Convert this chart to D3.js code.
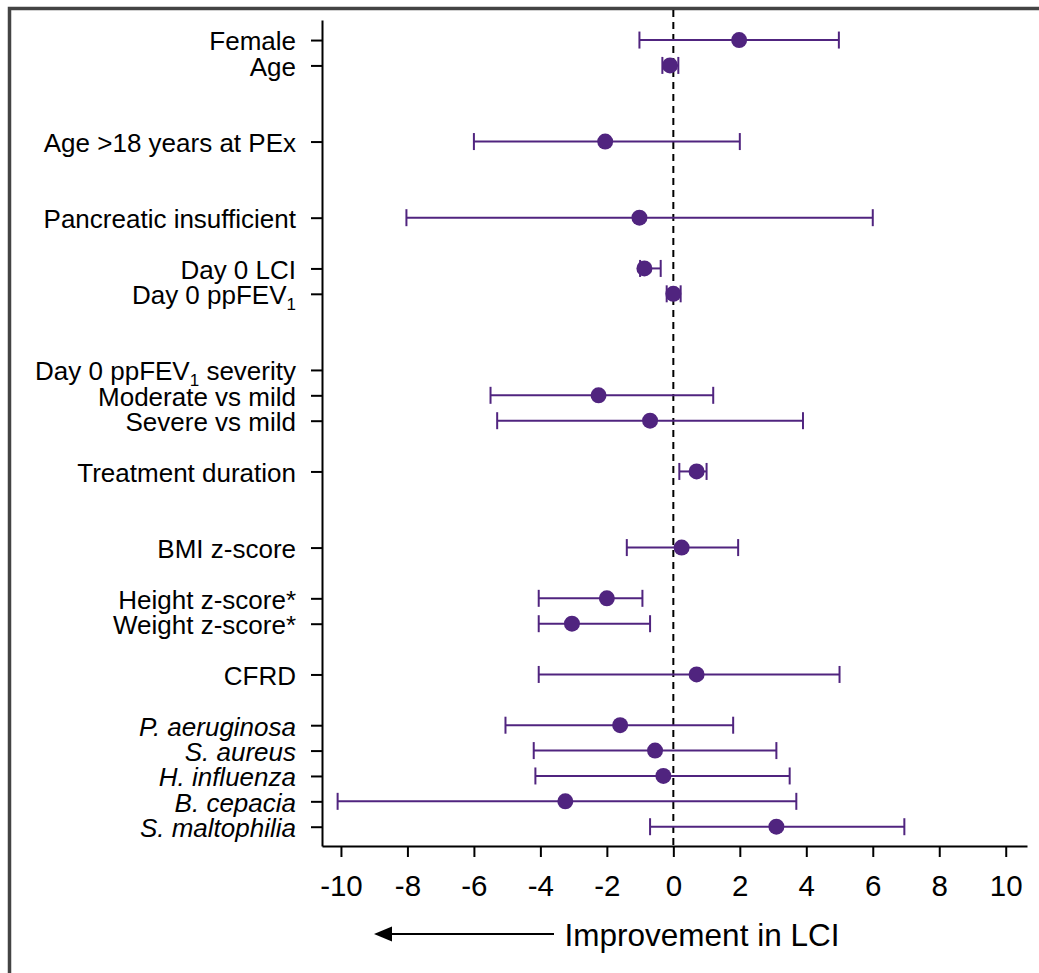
<!DOCTYPE html>
<html>
<head>
<meta charset="utf-8">
<script src="https://cdn.jsdelivr.net/npm/d3@7"></script>
<style>
  html, body { margin: 0; padding: 0; background: #fff; }
  svg { display: block; font-family: "Liberation Sans", Arial, Helvetica, sans-serif; }
</style>
</head>
<body>
<div id="chart"></div>
<script>
// forest plot : change in LCI per predictor, point estimate + 95% CI
// "_" marks the subscript character in a label (ppFEV_1)
var labels = ["Female", "Age", "Age >18 years at PEx", "Pancreatic insufficient",
  "Day 0 LCI", "Day 0 ppFEV_1", "Day 0 ppFEV_1 severity", "Moderate vs mild", "Severe vs mild",
  "Treatment duration", "BMI z-score", "Height z-score*", "Weight z-score*", "CFRD",
  "P. aeruginosa", "S. aureus", "H. influenza", "B. cepacia", "S. maltophilia"];

// row slot on the y axis (gaps separate the groups)
var rowSlot = [0, 1, 4, 7, 9, 10, 13.0, 14, 15, 17, 20, 22, 23, 25, 27, 28, 29, 30, 31];

var estimate = [1.98, -0.1, -2.05, -1.02, -0.87, 0.0, null, -2.25, -0.7, 0.7, 0.25, -2.0, -3.05, 0.7, -1.6, -0.55, -0.3, -3.25, 3.1];
var lower    = [-1.02, -0.33, -6.0, -8.03, -1.0, -0.2, null, -5.5, -5.3, 0.18, -1.4, -4.05, -4.05, -4.05, -5.05, -4.2, -4.15, -10.1, -0.7];
var upper    = [4.98, 0.15, 2.0, 6.0, -0.38, 0.22, null, 1.2, 3.9, 1.0, 1.95, -0.93, -0.7, 5.0, 1.8, 3.1, 3.5, 3.7, 6.95];

// organisms are written in italics
var italicRows = ["P. aeruginosa", "S. aureus", "H. influenza", "B. cepacia", "S. maltophilia"];

var xTicks = [-10, -8, -6, -4, -2, 0, 2, 4, 6, 8, 10];
var xTitle = "Improvement in LCI";

var W = 1039, H = 973;
var purple = "#50247f";

var svg = d3.select("#chart").append("svg")
    .attr("width", W)
    .attr("height", H);

// grey frame round the figure
svg.append("rect")
    .attr("x", 9.5).attr("y", 8.5)
    .attr("width", W + 50).attr("height", H + 50)
    .attr("fill", "none")
    .attr("stroke", "#444")
    .attr("stroke-width", 3.5);

var x = d3.scaleLinear().domain([-10.57, 10.64]).range([322, 1027]);
var y = d3.scaleLinear().domain([-0.79, 31.76]).range([20, 846]);

var rows = labels.map(function(l, i) {
    return { label: l, slot: rowSlot[i], est: estimate[i], lo: lower[i], hi: upper[i] };
});

// axes
var yAxis = svg.append("g")
    .attr("transform", "translate(" + x.range()[0] + ",0)")
    .call(d3.axisLeft(y).tickValues(rowSlot).tickSize(11).tickSizeOuter(0).tickFormat(""));

var xAxis = svg.append("g")
    .attr("transform", "translate(0," + y.range()[1] + ")")
    .call(d3.axisBottom(x).tickValues(xTicks).tickSize(11).tickSizeOuter(0).tickPadding(18)
        .tickFormat(d3.format("d")));

[yAxis, xAxis].forEach(function(a) {
    a.select(".domain").attr("stroke", "#000").attr("stroke-width", 2);
    a.selectAll(".tick line").attr("stroke", "#000").attr("stroke-width", 2);
});
xAxis.selectAll(".tick text")
    .attr("font-size", 29.5)
    .attr("font-family", "Liberation Sans, Arial, sans-serif")
    .attr("fill", "#000")
    .text(function(d) { return d < 0 ? "-" + Math.abs(d) : d; });

// row labels, with subscript and italics
var lab = svg.append("g").selectAll("text")
    .data(rows).enter().append("text")
    .attr("x", 296)
    .attr("y", function(d) { return y(d.slot); })
    .attr("dy", "0.4em")
    .attr("text-anchor", "end")
    .attr("font-size", 26)
    .attr("font-style", function(d) { return italicRows.indexOf(d.label) >= 0 ? "italic" : "normal"; })
    .attr("fill", "#000");

lab.each(function(d) {
    var t = d3.select(this);
    var parts = d.label.split("_");
    t.append("tspan").text(parts[0]);
    if (parts.length > 1) {
        t.append("tspan").attr("font-size", 17).attr("dy", 6).text(parts[1].charAt(0));
        t.append("tspan").attr("dy", -6).text(parts[1].slice(1));
    }
});

// reference line at zero
svg.append("line")
    .attr("x1", x(0)).attr("x2", x(0))
    .attr("y1", 10).attr("y2", y.range()[1])
    .attr("stroke", "#000")
    .attr("stroke-width", 2)
    .attr("stroke-dasharray", "7,5");

// error bars and points
var est = rows.filter(function(d) { return d.est !== null; });
var g = svg.append("g");

g.selectAll(".ci").data(est).enter().append("line")
    .attr("x1", function(d) { return x(d.lo); })
    .attr("x2", function(d) { return x(d.hi); })
    .attr("y1", function(d) { return y(d.slot); })
    .attr("y2", function(d) { return y(d.slot); })
    .attr("stroke", purple).attr("stroke-width", 2);

["lo", "hi"].forEach(function(k) {
    g.selectAll(".cap-" + k).data(est).enter().append("line")
        .attr("x1", function(d) { return x(d[k]); })
        .attr("x2", function(d) { return x(d[k]); })
        .attr("y1", function(d) { return y(d.slot) - 8.5; })
        .attr("y2", function(d) { return y(d.slot) + 8.5; })
        .attr("stroke", purple).attr("stroke-width", 2);
});

g.selectAll("circle").data(est).enter().append("circle")
    .attr("cx", function(d) { return x(d.est); })
    .attr("cy", function(d) { return y(d.slot); })
    .attr("r", 8)
    .attr("fill", purple);

// axis title with arrow pointing towards improvement
svg.append("line")
    .attr("x1", 388).attr("x2", 554)
    .attr("y1", 934).attr("y2", 934)
    .attr("stroke", "#000").attr("stroke-width", 2);
svg.append("path")
    .attr("d", "M374,934 L392,926.5 L392,941.5 Z")
    .attr("fill", "#000");
svg.append("text")
    .attr("x", 702).attr("y", 946)
    .attr("text-anchor", "middle")
    .attr("font-size", 31.5)
    .attr("fill", "#000")
    .text(xTitle);
</script>
</body>
</html>
